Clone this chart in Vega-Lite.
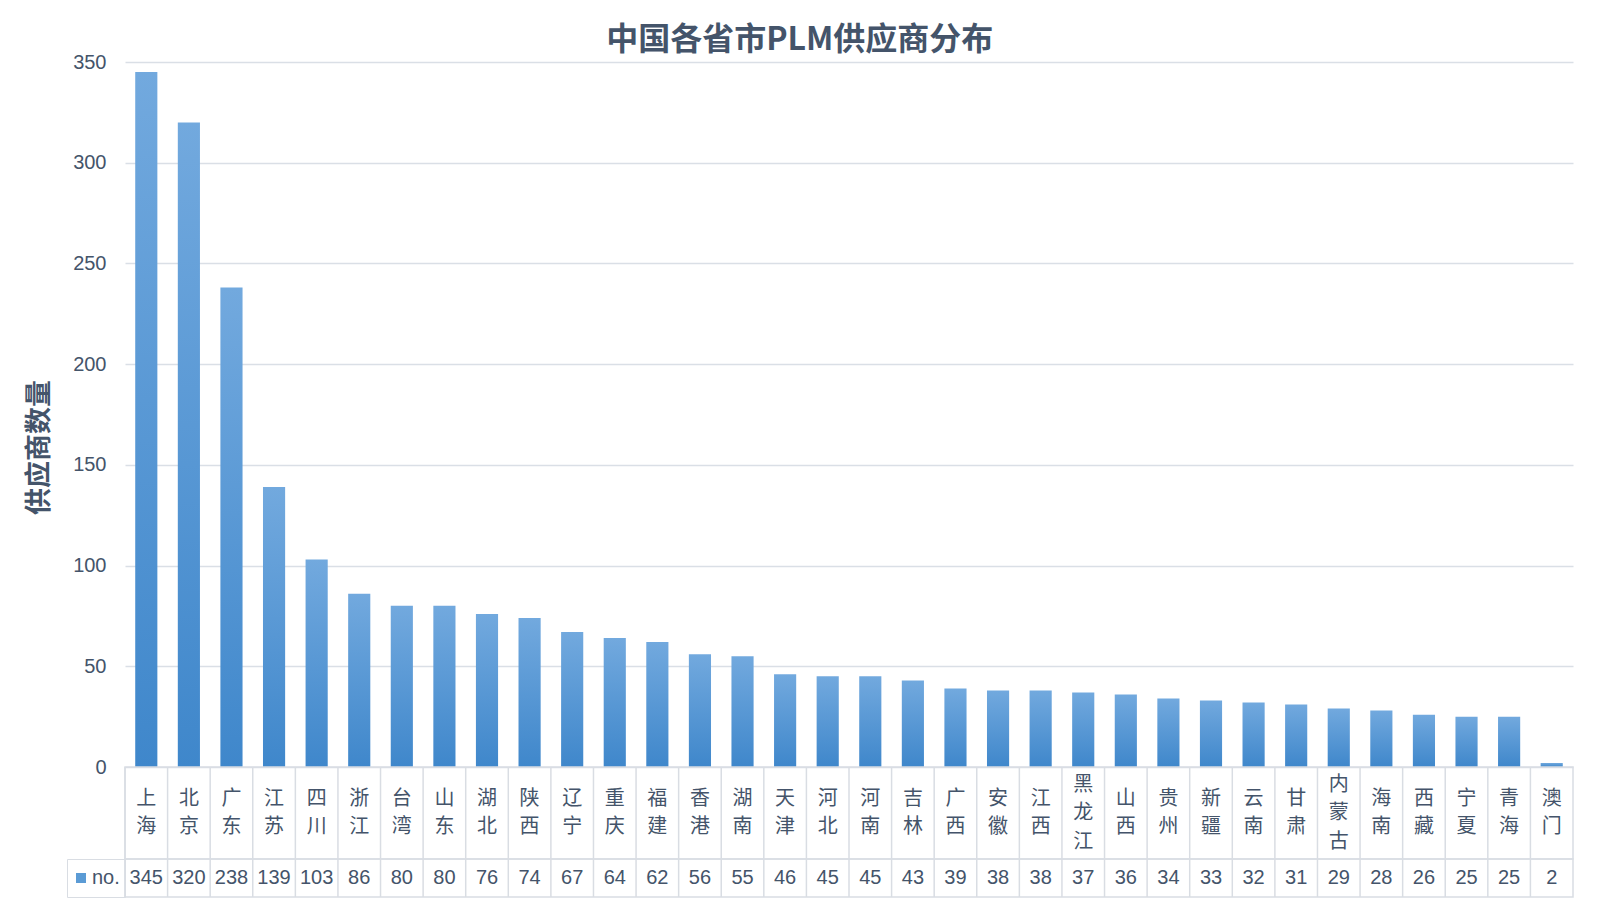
{
  "$schema": "https://vega.github.io/schema/vega-lite/v6.json",
  "title": {
    "text": "中国各省市PLM供应商分布",
    "font": "Noto Sans CJK SC",
    "fontSize": 32,
    "fontWeight": "bold",
    "color": "#44546a",
    "anchor": "middle",
    "offset": -5
  },
  "padding": {"left": 25, "top": 24, "right": 28, "bottom": 20},
  "data": {
    "values": [
      {"province": "上海", "n": 345},
      {"province": "北京", "n": 320},
      {"province": "广东", "n": 238},
      {"province": "江苏", "n": 139},
      {"province": "四川", "n": 103},
      {"province": "浙江", "n": 86},
      {"province": "台湾", "n": 80},
      {"province": "山东", "n": 80},
      {"province": "湖北", "n": 76},
      {"province": "陕西", "n": 74},
      {"province": "辽宁", "n": 67},
      {"province": "重庆", "n": 64},
      {"province": "福建", "n": 62},
      {"province": "香港", "n": 56},
      {"province": "湖南", "n": 55},
      {"province": "天津", "n": 46},
      {"province": "河北", "n": 45},
      {"province": "河南", "n": 45},
      {"province": "吉林", "n": 43},
      {"province": "广西", "n": 39},
      {"province": "安徽", "n": 38},
      {"province": "江西", "n": 38},
      {"province": "黑龙江", "n": 37},
      {"province": "山西", "n": 36},
      {"province": "贵州", "n": 34},
      {"province": "新疆", "n": 33},
      {"province": "云南", "n": 32},
      {"province": "甘肃", "n": 31},
      {"province": "内蒙古", "n": 29},
      {"province": "海南", "n": 28},
      {"province": "西藏", "n": 26},
      {"province": "宁夏", "n": 25},
      {"province": "青海", "n": 25},
      {"province": "澳门", "n": 2}
    ]
  },
  "spacing": 0,
  "bounds": "flush",
  "resolve": {"scale": {"color": "independent"}},
  "vconcat": [
    {
      "width": 1448,
      "height": 705,
      "view": {"stroke": null},
      "mark": {
        "type": "bar",
        "width": {"band": 0.52},
        "color": {
          "gradient": "linear",
          "x1": 0, "y1": 0, "x2": 0, "y2": 1,
          "stops": [
            {"offset": 0, "color": "#72a9de"},
            {"offset": 1, "color": "#3f87cb"}
          ]
        }
      },
      "encoding": {
        "x": {
          "field": "province",
          "type": "nominal",
          "sort": null,
          "axis": null,
          "scale": {"paddingInner": 0, "paddingOuter": 0}
        },
        "y": {
          "field": "n",
          "type": "quantitative",
          "scale": {"domain": [0, 350], "nice": false},
          "axis": {
            "values": [0, 50, 100, 150, 200, 250, 300, 350],
            "title": "供应商数量",
            "titleFont": "Noto Sans CJK SC",
            "titleFontSize": 27,
            "titleFontWeight": "bold",
            "titleColor": "#44546a",
            "titlePadding": 19,
            "titleY": 385,
            "labelFont": "Liberation Sans",
            "labelFontSize": 20,
            "labelColor": "#44546a",
            "labelPadding": 19,
            "ticks": false,
            "domain": false,
            "grid": true,
            "gridColor": "#dadfe6",
            "gridWidth": 1.5
          }
        }
      }
    },
    {
      "width": 1448,
      "height": 92,
      "transform": [{"calculate": "split(datum.province, '')", "as": "chars"}],
      "layer": [
        {
          "mark": {"type": "rule", "color": "#d9dde3", "strokeWidth": 1.5},
          "encoding": {
            "x": {
              "field": "province",
              "type": "nominal",
              "sort": null,
              "bandPosition": 0,
              "axis": null,
              "scale": {"paddingInner": 0, "paddingOuter": 0}
            }
          }
        },
        {
          "transform": [{"filter": "length(datum.province) == 2"}],
          "mark": {
            "type": "text",
            "font": "Noto Sans CJK SC",
            "fontSize": 20,
            "lineHeight": 28.5,
            "baseline": "middle",
            "align": "center",
            "dy": -14.25,
            "color": "#44546a"
          },
          "encoding": {
            "x": {"field": "province", "type": "nominal", "sort": null},
            "text": {"field": "chars", "type": "nominal"}
          }
        },
        {
          "transform": [{"filter": "length(datum.province) == 3"}],
          "mark": {
            "type": "text",
            "font": "Noto Sans CJK SC",
            "fontSize": 20,
            "lineHeight": 28.5,
            "baseline": "middle",
            "align": "center",
            "dy": -28.5,
            "color": "#44546a"
          },
          "encoding": {
            "x": {"field": "province", "type": "nominal", "sort": null},
            "text": {"field": "chars", "type": "nominal"}
          }
        }
      ]
    },
    {
      "width": 1448,
      "height": 38,
      "layer": [
        {
          "mark": {"type": "rule", "color": "#d9dde3", "strokeWidth": 1.5},
          "encoding": {
            "x": {
              "field": "province",
              "type": "nominal",
              "sort": null,
              "bandPosition": 0,
              "axis": null,
              "scale": {"paddingInner": 0, "paddingOuter": 0}
            }
          }
        },
        {
          "mark": {
            "type": "text",
            "font": "Liberation Sans",
            "fontSize": 20,
            "baseline": "middle",
            "align": "center",
            "color": "#44546a"
          },
          "encoding": {
            "x": {"field": "province", "type": "nominal", "sort": null},
            "text": {"field": "n", "type": "quantitative"}
          }
        },
        {
          "mark": {"type": "square", "opacity": 0},
          "encoding": {
            "x": {"field": "province", "type": "nominal", "sort": null},
            "color": {
              "datum": "no.",
              "type": "nominal",
              "scale": {"range": ["#5b9bd5"]},
              "legend": {
                "title": null,
                "orient": "left",
                "offset": 0,
                "padding": 5,
                "clipHeight": 28,
                "strokeColor": "#d9dde3",
                "symbolType": "square",
                "symbolSize": 100,
                "symbolOffset": -1,
                "symbolOpacity": 1,
                "symbolStrokeWidth": 0,
                "labelFont": "Liberation Sans",
                "labelFontSize": 20,
                "labelColor": "#44546a",
                "labelOffset": 1
              }
            }
          }
        }
      ]
    }
  ],
  "config": {
    "view": {"stroke": "#d9dde3", "strokeWidth": 1.5},
    "background": "white"
  }
}
